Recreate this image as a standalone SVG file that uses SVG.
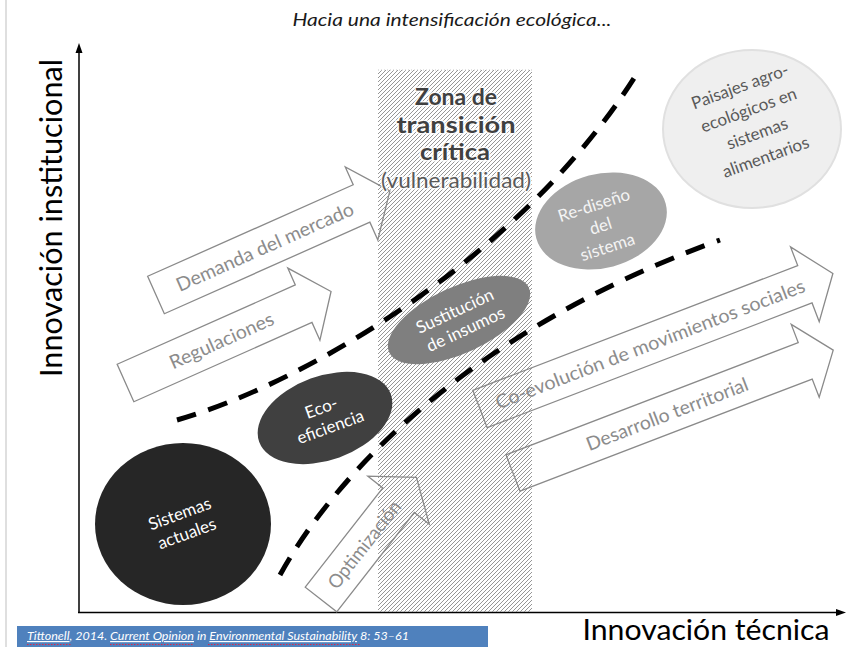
<svg xmlns="http://www.w3.org/2000/svg" width="853" height="647" viewBox="0 0 853 647">
  <defs>
    <pattern id="hatch" width="4" height="4" patternUnits="userSpaceOnUse">
      <path d="M-1,1 L1,-1 M0,4 L4,0 M3,5 L5,3" stroke="#8a8a8a" stroke-width="0.9"/>
    </pattern>
    <style>
      .sans { font-family: Lato, "Open Sans", "Liberation Sans", sans-serif; }
      .arrow { fill: #ffffff; stroke: #8a8a8a; stroke-width: 1.3; stroke-linejoin: miter; }
      .atext { font-family: Lato, "Open Sans", "Liberation Sans", sans-serif; font-size: 19px; fill: #8c8c8c; text-anchor: middle; }
      .dash { fill: none; stroke: #000000; stroke-width: 5; stroke-dasharray: 20 13; }
      .etext { font-family: Lato, "Open Sans", "Liberation Sans", sans-serif; font-size: 17px; text-anchor: middle; }
      .ztext { font-family: Lato, "Open Sans", "Liberation Sans", sans-serif; font-size: 22px; text-anchor: middle; paint-order: stroke; stroke: #ffffff; stroke-width: 3; stroke-opacity: 0.8; }
      .axis { stroke: #000000; stroke-width: 1.5; fill: none; }
    </style>
  </defs>

  <rect width="853" height="647" fill="#ffffff"/>
  <line x1="6" y1="0" x2="6" y2="647" stroke="#d4d4d4" stroke-width="1.5"/>

  <!-- title -->
  <text class="sans" x="452" y="26" font-size="17" font-style="italic" fill="#1a1a1a" text-anchor="middle" textLength="319" lengthAdjust="spacingAndGlyphs">Hacia una intensificación ecológica...</text>

  <!-- axes -->
  <g id="axes">
    <line class="axis" x1="79" y1="50" x2="79" y2="613"/>
    <polygon points="79,43 75.5,53 82.5,53" fill="#000"/>
    <line class="axis" x1="78" y1="612.5" x2="838" y2="612.5"/>
    <polygon points="846,612.5 836,609 836,616" fill="#000"/>
    <text class="sans" transform="translate(62,218) rotate(-90)" font-size="30" fill="#000" text-anchor="middle" textLength="318" lengthAdjust="spacingAndGlyphs">Innovación institucional</text>
    <text class="sans" x="706" y="640" font-size="28" fill="#000" text-anchor="middle" textLength="247" lengthAdjust="spacingAndGlyphs">Innovación técnica</text>
  </g>

  <!-- block arrows (pathways) -->
  <g id="connectors">
    <g id="arrow-demanda" transform="translate(156,295) rotate(-24)">
      <path class="arrow" d="M0,-20.5 L225,-20.5 L225,-40 L256,0 L225,40 L225,20.5 L0,20.5 Z"/>
      <text class="atext" x="119" y="7" textLength="192" lengthAdjust="spacingAndGlyphs">Demanda del mercado</text>
    </g>
    <g id="arrow-regulaciones" transform="translate(125.5,383) rotate(-24)">
      <path class="arrow" d="M0,-20.5 L195,-20.5 L195,-39 L225,0 L195,40 L195,20.5 L0,20.5 Z"/>
      <text class="atext" x="105" y="7" textLength="112" lengthAdjust="spacingAndGlyphs">Regulaciones</text>
    </g>
    <g id="arrow-coevolucion" transform="translate(480,409) rotate(-21)">
      <path class="arrow" d="M0,-20 L348,-20 L348,-40 L378,0 L348,40 L348,20 L0,20 Z"/>
      <text class="atext" x="182" y="7" textLength="330" lengthAdjust="spacingAndGlyphs">Co-evolución de movimientos sociales</text>
    </g>
    <g id="arrow-desarrollo" transform="translate(513,473) rotate(-21)">
      <path class="arrow" d="M0,-19.5 L313,-19.5 L313,-39 L343,0 L313,39 L313,19.5 L0,19.5 Z"/>
      <text class="atext" x="165" y="7" textLength="172" lengthAdjust="spacingAndGlyphs">Desarrollo territorial</text>
    </g>
    <g id="arrow-optimizacion" transform="translate(321,599.5) rotate(-52)">
      <path class="arrow" d="M0,-20 L126,-20 L126,-39 L155,0 L126,39 L126,20 L0,20 Z"/>
      <text class="atext" x="70" y="7" textLength="106" lengthAdjust="spacingAndGlyphs">Optimización</text>
    </g>
  </g>

  <!-- critical transition zone -->
  <g id="zona">
    <rect x="378" y="70" width="154" height="542" fill="url(#hatch)"/>
    <line x1="378" y1="70" x2="532" y2="70" stroke="#c8c8c8" stroke-width="1" stroke-dasharray="1 2"/>
  </g>

  <!-- system states -->
  <g id="sistemas-actuales">
    <ellipse cx="183" cy="524" rx="88" ry="81" fill="#262626"/>
    <g transform="translate(183,523) rotate(-20)">
      <text class="etext" x="0" y="-4" fill="#ffffff">Sistemas</text>
      <text class="etext" x="0" y="17" fill="#ffffff">actuales</text>
    </g>
  </g>
  <g id="eco-eficiencia" transform="translate(325,418) rotate(-20)">
    <ellipse cx="0" cy="0" rx="70" ry="42" fill="#404040"/>
    <text class="etext" x="0" y="-5" fill="#ffffff">Eco-</text>
    <text class="etext" x="2" y="16" fill="#ffffff">eficiencia</text>
  </g>
  <g id="sustitucion" transform="translate(459,320) rotate(-25)">
    <ellipse cx="0" cy="0" rx="77" ry="33" fill="#7f7f7f"/>
    <text class="etext" x="0" y="-4" fill="#ffffff">Sustitución</text>
    <text class="etext" x="2" y="17" fill="#ffffff">de insumos</text>
  </g>
  <g id="rediseno">
    <ellipse cx="601" cy="221" rx="67" ry="47" fill="#a6a6a6" transform="rotate(-15 601 221)"/>
    <g transform="translate(600,224) rotate(-18)">
      <text class="etext" x="0" y="-14" fill="#f4f4f4">Re-diseño</text>
      <text class="etext" x="0" y="8" fill="#f4f4f4">del</text>
      <text class="etext" x="0" y="30" fill="#f4f4f4">sistema</text>
    </g>
  </g>
  <g id="paisajes">
    <ellipse cx="752" cy="129" rx="89" ry="79" fill="#efefef" stroke="#e0e0e0" stroke-width="2"/>
    <g transform="translate(753,122) rotate(-20)">
      <text class="etext" x="0" y="-32" font-size="18" fill="#595959">Paisajes agro-</text>
      <text class="etext" x="0" y="-7" font-size="18" fill="#595959">ecológicos en</text>
      <text class="etext" x="0" y="18" font-size="18" fill="#595959">sistemas</text>
      <text class="etext" x="0" y="43" font-size="18" fill="#595959">alimentarios</text>
    </g>
  </g>

  <!-- boundary curves -->
  <g id="limites">
    <path class="dash" d="M177,420 C300,385 520,260 636,75"/>
    <path class="dash" d="M280,575 C335,475 470,330 720,240"/>
  </g>

  <!-- zone label -->
  <g id="zona-label">
    <text class="ztext" x="456" y="105" font-weight="bold" fill="#404040" textLength="82" lengthAdjust="spacingAndGlyphs">Zona de</text>
    <text class="ztext" x="456" y="133" font-weight="bold" fill="#404040" textLength="119" lengthAdjust="spacingAndGlyphs">transición</text>
    <text class="ztext" x="455" y="160" font-weight="bold" fill="#404040" textLength="70" lengthAdjust="spacingAndGlyphs">crítica</text>
    <text class="ztext" x="456" y="188" font-size="20" fill="#595959" textLength="150" lengthAdjust="spacingAndGlyphs">(vulnerabilidad)</text>
  </g>

  <!-- reference footer -->
  <g id="cita">
    <rect x="17" y="626" width="471" height="21" fill="#4f81bd"/>
    <text class="sans" x="27" y="640" font-size="12" font-style="italic" fill="#ffffff" textLength="382" lengthAdjust="spacingAndGlyphs"><tspan text-decoration="underline">Tittonell</tspan>, 2014. <tspan text-decoration="underline">Current Opinion</tspan> in <tspan text-decoration="underline">Environmental Sustainability</tspan> 8: 53–61</text>
    <g stroke="#e0284a" stroke-width="1" stroke-dasharray="1.5 1.5">
      <line x1="27" y1="644.5" x2="72" y2="644.5"/>
      <line x1="110" y1="644.5" x2="193" y2="644.5"/>
      <line x1="208" y1="644.5" x2="360" y2="644.5"/>
    </g>
  </g>
</svg>
